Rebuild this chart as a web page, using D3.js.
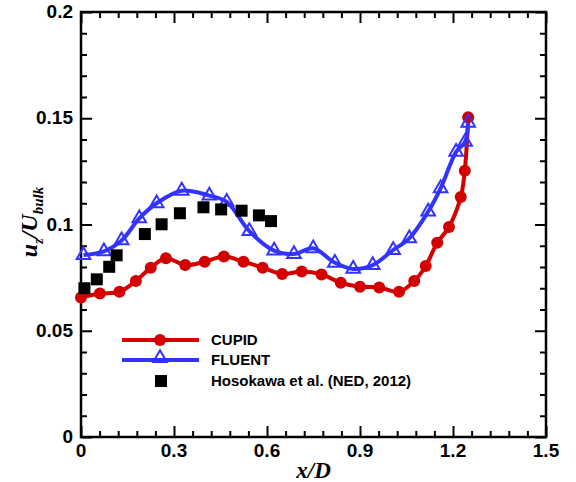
<!DOCTYPE html>
<html>
<head>
<meta charset="utf-8">
<script src="https://cdn.jsdelivr.net/npm/d3@7.9.0/dist/d3.min.js"></script>
<style>
  html, body { margin: 0; padding: 0; background: #fff; }
  svg { display: block; }
  .tick-label { font-family: "Liberation Sans", Arial, sans-serif; font-weight: bold; font-size: 19px; }
  .legend text { font-family: "Liberation Sans", Arial, sans-serif; font-weight: bold; font-size: 15px; }
  .title { font-family: "Liberation Serif", "Times New Roman", serif; font-weight: bold; font-style: italic; }
</style>
</head>
<body>
<svg id="chart" width="576" height="482"></svg>
<script>
// CUPID (red, circles)
const cupidX = [0, 0.061, 0.124, 0.177, 0.225, 0.274, 0.336, 0.399, 0.461, 0.524, 0.586, 0.649,
  0.712, 0.776, 0.838, 0.9, 0.962, 1.026, 1.075, 1.112, 1.149, 1.187, 1.225, 1.238, 1.249];
const cupidY = [0.0657, 0.0675, 0.0683, 0.0734, 0.0797, 0.0841, 0.0809, 0.0825, 0.0849, 0.0825, 0.0797, 0.0767,
  0.0779, 0.0765, 0.0726, 0.0707, 0.0704, 0.0683, 0.0734, 0.0805, 0.0914, 0.0988, 0.1129, 0.1253, 0.1505];

// FLUENT (blue, hollow triangles)
const fluentX = [0.008, 0.074, 0.131, 0.188, 0.244, 0.325, 0.414, 0.47, 0.543, 0.623, 0.687, 0.749,
  0.819, 0.878, 0.941, 1.007, 1.059, 1.12, 1.16, 1.21, 1.239, 1.249];
const fluentY = [0.0856, 0.0874, 0.0925, 0.1029, 0.1100, 0.1159, 0.1136, 0.1107, 0.0969, 0.0877, 0.0861, 0.0888,
  0.0820, 0.0791, 0.0809, 0.0880, 0.0935, 0.1061, 0.1170, 0.1342, 0.1389, 0.1479];

// Hosokawa et al. (NED, 2012) experiment (black squares)
const expX = [0.011, 0.051, 0.091, 0.115, 0.206, 0.26, 0.319, 0.395, 0.452, 0.518, 0.574, 0.613];
const expY = [0.070, 0.0742, 0.0801, 0.0855, 0.0955, 0.1001, 0.1053, 0.1081, 0.1071, 0.1065, 0.1043, 0.1016];

const xTicks = [0, 0.3, 0.6, 0.9, 1.2, 1.5];
const xTickLabels = ['0', '0.3', '0.6', '0.9', '1.2', '1.5'];
const yTicks = [0, 0.05, 0.1, 0.15, 0.2];
const yTickLabels = ['0', '0.05', '0.1', '0.15', '0.2'];

const legendLabels = ['CUPID', 'FLUENT', 'Hosokawa et al. (NED, 2012)'];

const red = '#d40000';
const blue = '#3333ff';

const svg = d3.select('#chart');
const pLeft = 81, pRight = 546, pTop = 12, pBottom = 437;

const x = d3.scaleLinear().domain([0, 1.5]).range([pLeft, pRight]);
const y = d3.scaleLinear().domain([0, 0.2]).range([pBottom, pTop]);

const cupid = cupidX.map((v, i) => [v, cupidY[i]]);
const fluent = fluentX.map((v, i) => [v, fluentY[i]]);
const exp = expX.map((v, i) => [v, expY[i]]);

// axes: ticks inside on all four sides
const xMinor = d3.range(0, 1.5001, 0.06).filter(v => !xTicks.some(t => Math.abs(t - v) < 1e-6));
const yMinor = d3.range(0, 0.2001, 0.01).filter(v => !yTicks.some(t => Math.abs(t - v) < 1e-6));

function tickAxis(axisFn, scale, major, minor, pos) {
  const g = svg.append('g').attr('transform', pos);
  g.call(axisFn(scale).tickValues(major).tickSize(-11).tickFormat(''));
  g.append('g').call(axisFn(scale).tickValues(minor).tickSize(-6).tickFormat(''));
  g.selectAll('.domain').remove();
  g.selectAll('line').attr('stroke', '#000').attr('stroke-width', 2);
  return g;
}
tickAxis(d3.axisBottom, x, xTicks, xMinor, `translate(0,${pBottom})`);
tickAxis(d3.axisTop, x, xTicks, xMinor, `translate(0,${pTop})`);
tickAxis(d3.axisLeft, y, yTicks, yMinor, `translate(${pLeft},0)`);
tickAxis(d3.axisRight, y, yTicks, yMinor, `translate(${pRight},0)`);

svg.append('rect')
  .attr('x', pLeft).attr('y', pTop)
  .attr('width', pRight - pLeft).attr('height', pBottom - pTop)
  .attr('fill', 'none').attr('stroke', '#000').attr('stroke-width', 2.5);

// tick labels
svg.append('g').selectAll('text').data(xTicks).join('text')
  .attr('class', 'tick-label')
  .attr('x', d => x(d)).attr('y', 457)
  .attr('text-anchor', 'middle')
  .text((d, i) => xTickLabels[i]);

svg.append('g').selectAll('text').data(yTicks).join('text')
  .attr('class', 'tick-label')
  .attr('x', 73).attr('y', d => y(d) + 6)
  .attr('text-anchor', 'end')
  .text((d, i) => yTickLabels[i]);

// axis titles
svg.append('text').attr('class', 'title')
  .attr('x', (pLeft + pRight) / 2).attr('y', 478).attr('text-anchor', 'middle')
  .attr('font-size', 23).text('x/D');

const yt = svg.append('text').attr('class', 'title')
  .attr('transform', 'translate(37,222) rotate(-90)')
  .attr('text-anchor', 'middle').attr('font-size', 24);
yt.append('tspan').text('u');
yt.append('tspan').attr('font-size', 14).attr('dy', 6).text('z');
yt.append('tspan').attr('dy', -6).text('/U');
yt.append('tspan').attr('font-size', 15).attr('dy', 6).text('bulk');

// lines
const line = d3.line().x(d => x(d[0])).y(d => y(d[1])).curve(d3.curveCatmullRom.alpha(0.5));

svg.append('path').datum(cupid).attr('d', line)
  .attr('fill', 'none').attr('stroke', red).attr('stroke-width', 4);
svg.append('g').selectAll('circle').data(cupid).join('circle')
  .attr('cx', d => x(d[0])).attr('cy', d => y(d[1])).attr('r', 6)
  .attr('fill', red);

svg.append('path').datum(fluent).attr('d', line)
  .attr('fill', 'none').attr('stroke', blue).attr('stroke-width', 4);
const tri = d3.symbol().type(d3.symbolTriangle).size(80);
svg.append('g').selectAll('path').data(fluent).join('path')
  .attr('d', tri)
  .attr('transform', d => `translate(${x(d[0])},${y(d[1])})`)
  .attr('fill', 'none').attr('stroke', blue).attr('stroke-width', 2);

svg.append('g').selectAll('rect').data(exp).join('rect')
  .attr('x', d => x(d[0]) - 6).attr('y', d => y(d[1]) - 6)
  .attr('width', 12).attr('height', 12).attr('fill', '#000');

// legend
const legend = svg.append('g').attr('class', 'legend');
const ly = [340, 360, 381];
legend.append('line').attr('x1', 122).attr('x2', 199).attr('y1', ly[0]).attr('y2', ly[0])
  .attr('stroke', red).attr('stroke-width', 4);
legend.append('circle').attr('cx', 160).attr('cy', ly[0]).attr('r', 6).attr('fill', red);
legend.append('line').attr('x1', 122).attr('x2', 199).attr('y1', ly[1]).attr('y2', ly[1])
  .attr('stroke', blue).attr('stroke-width', 4);
legend.append('path').attr('d', tri).attr('transform', `translate(160,${ly[1] - 2})`)
  .attr('fill', 'none').attr('stroke', blue).attr('stroke-width', 2);
legend.append('rect').attr('x', 155).attr('y', ly[2] - 6).attr('width', 12).attr('height', 12).attr('fill', '#000');
legend.selectAll('text').data(legendLabels).join('text')
  .attr('x', 211).attr('y', (d, i) => ly[i] + 5)
  .text(d => d);
</script>
</body>
</html>
